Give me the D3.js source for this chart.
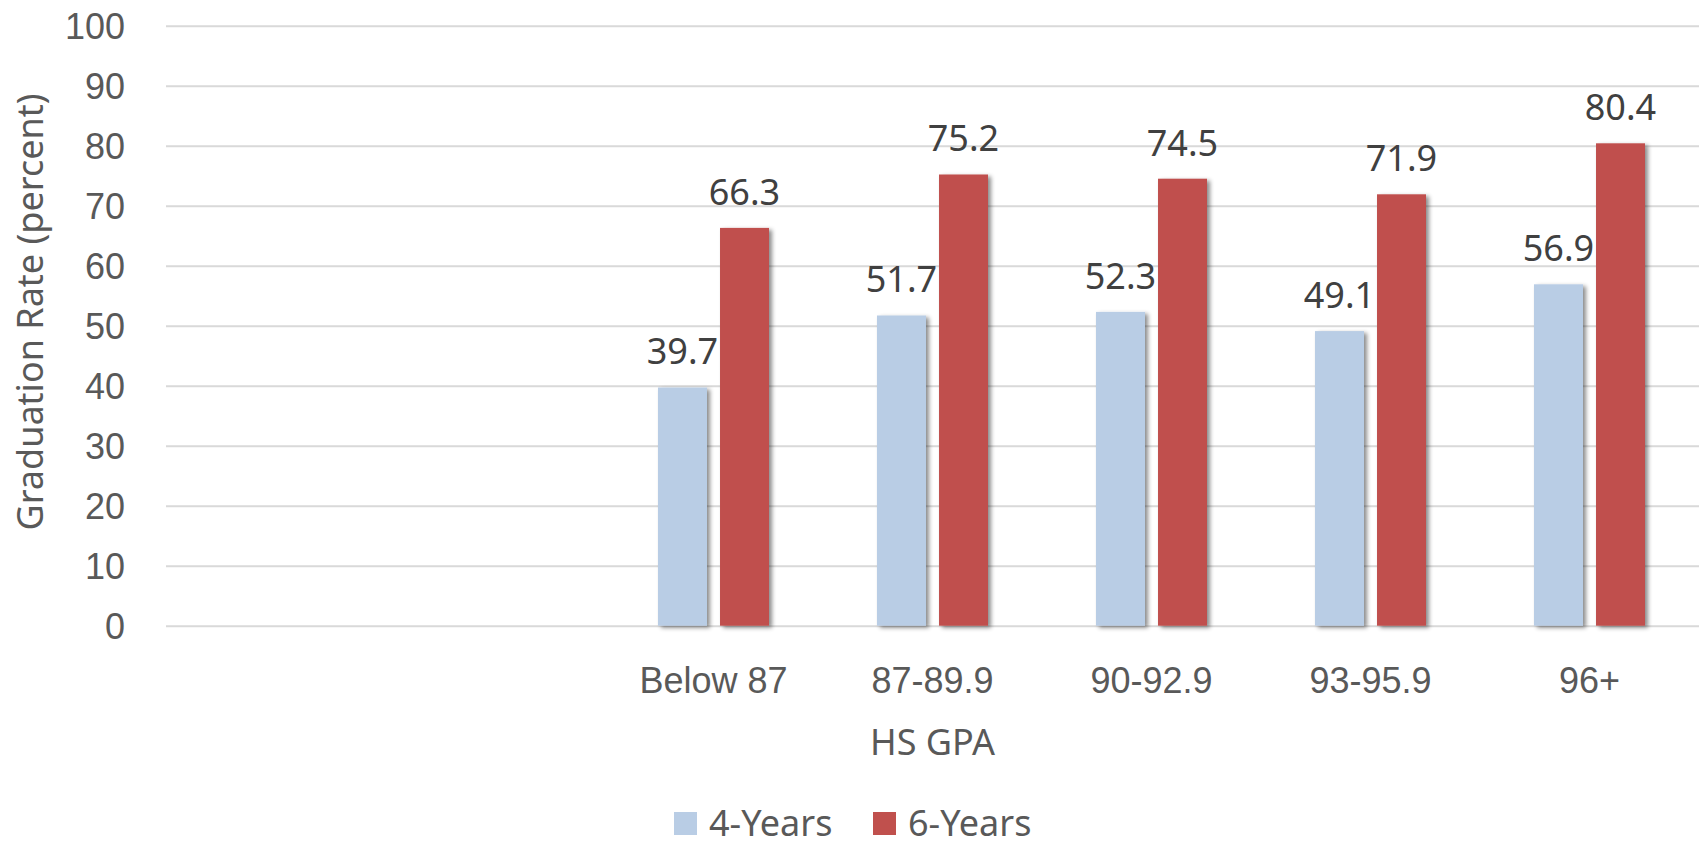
<!DOCTYPE html>
<html>
<head>
<meta charset="utf-8">
<script src="https://cdn.jsdelivr.net/npm/d3@7"></script>
<style>
  body { margin: 0; background: #fff; }
  svg { display: block; font-family: "Noto Sans", "Open Sans", sans-serif; }
</style>
</head>
<body>
<div id="chart"></div>
<script>
// chart data (first two categories are blank in the source chart)
var categories = ["", "", "Below 87", "87-89.9", "90-92.9", "93-95.9", "96+"];
var seriesNames = ["4-Years", "6-Years"];
var fourYears = [null, null, 39.7, 51.7, 52.3, 49.1, 56.9];
var sixYears = [null, null, 66.3, 75.2, 74.5, 71.9, 80.4];
var yTicks = [0, 10, 20, 30, 40, 50, 60, 70, 80, 90, 100];
var colors = ["#b9cde5", "#c0504d"];

var width = 1703, height = 847;
var margin = { top: 25.7, right: 4, bottom: 221.3, left: 166 };
var plotW = width - margin.left - margin.right,
    plotH = height - margin.top - margin.bottom;

var svg = d3.select("#chart")
    .append("svg")
    .attr("width", width)
    .attr("height", height);

svg.append("rect").attr("width", width).attr("height", height).attr("fill", "#fff");

// bar shadow
var defs = svg.append("defs");
defs.append("filter")
    .attr("id", "shadow")
    .attr("x", "-20%").attr("y", "-5%").attr("width", "160%").attr("height", "115%")
    .append("feDropShadow")
    .attr("dx", 3).attr("dy", 2)
    .attr("stdDeviation", 2.2)
    .attr("flood-color", "#000")
    .attr("flood-opacity", 0.45);

var g = svg.append("g").attr("transform", "translate(" + margin.left + "," + margin.top + ")");

var x0 = d3.scaleBand()
    .domain(d3.range(categories.length))
    .range([0, plotW])
    .padding(0);

var groupW = 111;
var x1 = d3.scaleBand()
    .domain(seriesNames)
    .range([(x0.bandwidth() - groupW) / 2, (x0.bandwidth() + groupW) / 2])
    .paddingInner(0.21);

var y = d3.scaleLinear().domain([0, 100]).range([plotH, 0]);

// gridlines + y labels
var yAxis = g.append("g")
    .call(d3.axisLeft(y).tickValues(yTicks).tickSize(-plotW).tickPadding(41));
yAxis.select(".domain").remove();
yAxis.selectAll(".tick line").attr("stroke", "#d9d9d9").attr("stroke-width", 2);
yAxis.selectAll(".tick text")
    .attr("fill", "#595959")
    .style("font-size", "36px")
    .attr("dy", "0.35em");

// x labels
var xAxis = g.append("g")
    .attr("transform", "translate(0," + plotH + ")")
    .call(d3.axisBottom(x0).tickSize(0).tickPadding(42).tickFormat(function (i) { return categories[i]; }));
xAxis.select(".domain").remove();
xAxis.selectAll(".tick text")
    .attr("fill", "#595959")
    .style("font-size", "36px");

// bars
var rows = categories.map(function (c, i) {
    return { i: i, values: [fourYears[i], sixYears[i]] };
});

var groups = g.selectAll(".group")
    .data(rows)
    .enter()
    .append("g")
    .attr("class", "group")
    .attr("transform", function (d) { return "translate(" + x0(d.i) + ",0)"; });

var cells = groups.selectAll(".cell")
    .data(function (d) {
        return seriesNames.map(function (s, k) { return { s: s, k: k, v: d.values[k] }; })
            .filter(function (e) { return e.v !== null; });
    })
    .enter();

cells.append("rect")
    .attr("x", function (d) { return x1(d.s); })
    .attr("y", function (d) { return y(d.v); })
    .attr("width", x1.bandwidth())
    .attr("height", function (d) { return plotH - y(d.v); })
    .attr("fill", function (d) { return colors[d.k]; })
    .attr("filter", "url(#shadow)");

cells.append("text")
    .attr("x", function (d) { return x1(d.s) + x1.bandwidth() / 2; })
    .attr("y", function (d) { return y(d.v) - 23; })
    .attr("text-anchor", "middle")
    .attr("fill", "#404040")
    .style("font-size", "36px")
    .text(function (d) { return d3.format(".1f")(d.v); });

// axis titles
svg.append("text")
    .attr("transform", "translate(30," + 312 + ") rotate(-90)")
    .attr("text-anchor", "middle")
    .attr("dy", "0.35em")
    .attr("fill", "#595959")
    .style("font-size", "36px")
    .text("Graduation Rate (percent)");

svg.append("text")
    .attr("x", margin.left + plotW / 2)
    .attr("y", 755)
    .attr("text-anchor", "middle")
    .attr("fill", "#595959")
    .style("font-size", "36px")
    .text("HS GPA");

// legend
var legendItemX = [674, 873];
var legend = svg.selectAll(".legend")
    .data(seriesNames)
    .enter()
    .append("g")
    .attr("class", "legend")
    .attr("transform", function (d, i) { return "translate(" + legendItemX[i] + ",812)"; });

legend.append("rect")
    .attr("width", 23)
    .attr("height", 23)
    .attr("fill", function (d, i) { return colors[i]; });

legend.append("text")
    .attr("x", 35)
    .attr("y", 24)
    .attr("fill", "#595959")
    .style("font-size", "36px")
    .text(function (d) { return d; });
</script>
</body>
</html>
